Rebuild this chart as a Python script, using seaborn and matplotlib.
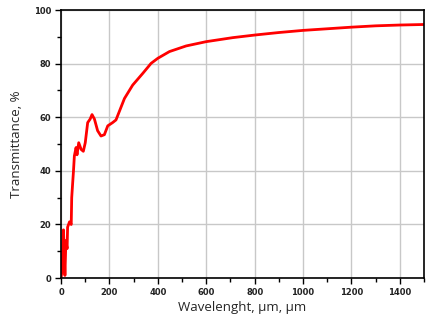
import matplotlib
matplotlib.use("Agg")
import matplotlib.pyplot as plt
import seaborn as sns
import numpy as np
import pandas as pd
from matplotlib.ticker import MultipleLocator

# values
wavelength = [0, 4, 10, 16, 20, 25, 27, 35, 42, 44, 48, 51, 55, 62, 66, 73, 83, 92,
              100, 110, 120, 128, 138, 151, 165, 179, 193, 213, 227, 262, 296, 338,
              372, 400, 448, 517, 600, 710, 804, 900, 1000, 1100, 1200,
              1300, 1400, 1500]
transmittance = [0, 3, 18, 1, 14, 11, 19, 21, 20, 30, 35.5, 39.5, 45.6, 48.7, 46, 50.5,
                 48, 47.3, 50.5, 58, 59.3, 61, 59.3, 55, 53, 53.5, 56.8, 58, 59, 67,
                 72, 76.4, 80.1, 82, 84.5, 86.6, 88.2, 89.7, 90.7, 91.6, 92.4,
                 93, 93.6, 94.1, 94.4, 94.6]

df = pd.DataFrame({"wl": wavelength, "T": transmittance})

sns.set_style("white")
fig = plt.figure(figsize=(4.27, 3.23), dpi=100)
ax = fig.add_axes([0.143, 0.139, 0.85, 0.83])

sns.lineplot(data=df, x="wl", y="T", ax=ax, color="#ff0000", linewidth=2)

ax.set_xlim(0, 1500)
ax.set_ylim(0, 100)
ax.xaxis.set_major_locator(MultipleLocator(200))
ax.xaxis.set_minor_locator(MultipleLocator(100))
ax.yaxis.set_major_locator(MultipleLocator(20))
ax.yaxis.set_minor_locator(MultipleLocator(10))
ax.grid(True, which="major", color="#c8c8c8", linewidth=1)
ax.set_axisbelow(True)

for s in ax.spines.values():
    s.set_color("black")
    s.set_linewidth(1.2)

ax.tick_params(which="both", bottom=True, left=True, top=False, right=False)
ax.tick_params(which="major", direction="out", length=4, width=1, color="black",
               labelsize=6, labelcolor="#222222", pad=3)
ax.tick_params(which="minor", direction="out", length=3, width=1, color="black")
for lbl in ax.get_xticklabels() + ax.get_yticklabels():
    lbl.set_fontweight("bold")

ax.set_xlabel("Wavelenght, µm, µm", fontsize=9.5, family="Open Sans", labelpad=3)
ax.set_ylabel("Transmittance, %", fontsize=9.5, family="Open Sans", labelpad=8)

fig.savefig("out.png", dpi=100)
